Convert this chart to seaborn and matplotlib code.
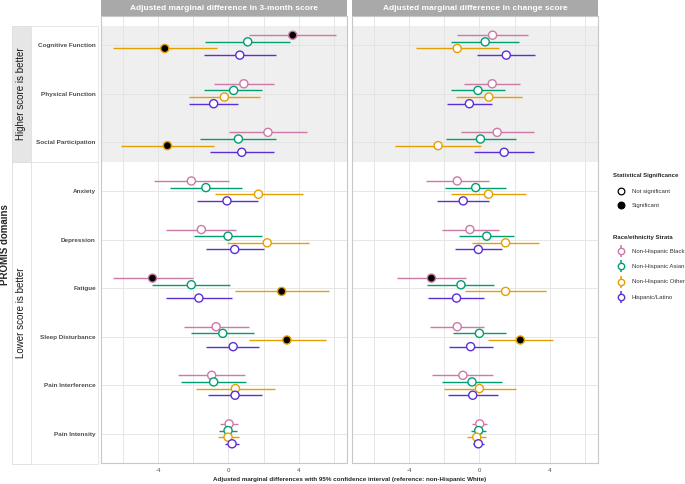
import numpy as np
import pandas as pd
import matplotlib.pyplot as plt
import seaborn as sns
from matplotlib.patches import Rectangle

# ---------------------------------
# Data
# ---------------------------------
domains = ["Cognitive Function", "Physical Function", "Social Participation",
           "Anxiety", "Depression", "Fatigue", "Sleep Disturbance",
           "Pain Interference", "Pain Intensity"]
races = ["Non-Hispanic Black", "Non-Hispanic Asian", "Non-Hispanic Other", "Hispanic/Latino"]
race_colors = ["#CC79A7", "#009E73", "#E69F00", "#5B2FD6"]
panel_titles = ["Adjusted marginal difference in 3-month score",
                "Adjusted marginal difference in change score"]
group_labels = ["Higher score is better", "Lower score is better"]
x_ticks = [-4, 0, 4]

# 3-month score: rows = domains, cols = races
est_3m = [[3.66, 1.10, -3.62, 0.65],
          [0.88, 0.30, -0.23, -0.84],
          [2.25, 0.57, -3.47, 0.76],
          [-2.11, -1.28, 1.71, -0.08],
          [-1.54, -0.02, 2.21, 0.36],
          [-4.32, -2.11, 3.03, -1.68],
          [-0.70, -0.32, 3.33, 0.27],
          [-0.95, -0.84, 0.40, 0.38],
          [0.04, -0.02, -0.02, 0.21]]
lo_3m = [[1.16, -1.31, -6.55, -1.39],
         [-0.84, -1.37, -2.23, -2.25],
         [0.02, -1.60, -6.10, -1.07],
         [-4.25, -3.33, -0.78, -1.81],
         [-3.54, -1.94, -0.10, -1.26],
         [-6.59, -4.32, 0.36, -3.54],
         [-2.55, -2.11, 1.16, -1.26],
         [-2.84, -2.69, -1.87, -1.18],
         [-0.46, -0.51, -0.61, -0.17]]
hi_3m = [[6.15, 3.52, -0.65, 2.72],
         [2.59, 1.94, 1.79, 0.55],
         [4.50, 2.72, -0.84, 2.59],
         [0.04, 0.76, 4.25, 1.68],
         [0.44, 1.92, 4.57, 2.00],
         [-2.04, 0.10, 5.75, 0.19],
         [1.16, 1.47, 5.54, 1.77],
         [0.97, 1.01, 2.67, 1.94],
         [0.55, 0.48, 0.61, 0.61]]
sig_3m = [[1, 0, 1, 0],
          [0, 0, 0, 0],
          [0, 0, 1, 0],
          [0, 0, 0, 0],
          [0, 0, 0, 0],
          [1, 0, 1, 0],
          [0, 0, 1, 0],
          [0, 0, 0, 0],
          [0, 0, 0, 0]]

# change score
est_chg = [[0.75, 0.33, -1.26, 1.53],
           [0.73, -0.08, 0.54, -0.57],
           [1.01, 0.06, -2.35, 1.41],
           [-1.26, -0.21, 0.52, -0.92],
           [-0.54, 0.42, 1.49, -0.06],
           [-2.73, -1.05, 1.49, -1.30],
           [-1.26, 0.00, 2.33, -0.50],
           [-0.94, -0.42, 0.00, -0.38],
           [0.02, -0.04, -0.15, -0.06]]
lo_chg = [[-1.26, -1.61, -3.63, -0.11],
          [-0.88, -1.61, -1.32, -1.87],
          [-1.07, -1.91, -4.80, -0.29],
          [-3.06, -1.95, -1.63, -2.39],
          [-2.14, -1.15, -0.42, -1.38],
          [-4.70, -2.96, -0.84, -2.93],
          [-2.81, -1.49, 0.50, -1.74],
          [-2.70, -2.10, -2.03, -1.78],
          [-0.42, -0.46, -0.69, -0.38]]
hi_chg = [[2.75, 2.26, 1.09, 3.15],
          [2.31, 1.45, 2.41, 0.73],
          [3.08, 2.07, 0.08, 3.08],
          [0.52, 1.53, 2.64, 0.57],
          [1.09, 1.99, 3.38, 1.26],
          [-0.78, 0.82, 3.80, 0.29],
          [0.29, 1.51, 4.17, 0.76],
          [0.80, 1.26, 2.07, 1.05],
          [0.46, 0.40, 0.38, 0.29]]
sig_chg = [[0, 0, 0, 0],
           [0, 0, 0, 0],
           [0, 0, 0, 0],
           [0, 0, 0, 0],
           [0, 0, 0, 0],
           [1, 0, 0, 0],
           [0, 0, 1, 0],
           [0, 0, 0, 0],
           [0, 0, 0, 0]]


def long_table(est, lo, hi, sig):
    rows = []
    for i, d in enumerate(domains):
        for j, r in enumerate(races):
            rows.append({"domain": d, "race": r, "est": est[i][j],
                         "lo": lo[i][j], "hi": hi[i][j], "sig": bool(sig[i][j])})
    df = pd.DataFrame(rows)
    dodge = dict(zip(races, np.linspace(-1, 1, len(races)) * 0.205))
    df["y"] = df["domain"].map({d: i + 1 for i, d in enumerate(domains)}) + df["race"].map(dodge)
    return df


tables = [long_table(est_3m, lo_3m, hi_3m, sig_3m),
          long_table(est_chg, lo_chg, hi_chg, sig_chg)]
palette = dict(zip(races, race_colors))

# ---------------------------------
# Figure
# ---------------------------------
sns.set_theme(style="white")
plt.rcParams["font.family"] = ["Liberation Sans", "DejaVu Sans"]

W, H = 685, 484
fig = plt.figure(figsize=(W / 100, H / 100), dpi=100)

# overlay in pixel coordinates for strips, boxes, labels and legend
ov = fig.add_axes([0, 0, 1, 1])
ov.set_xlim(0, W)
ov.set_ylim(H, 0)
ov.axis("off")


def px_axes(x0, y0, x1, y1):
    return fig.add_axes([x0 / W, 1 - y1 / H, (x1 - x0) / W, (y1 - y0) / H])


panel_x = [(101, 347), (352, 598)]
top, bottom = 16, 463

for k, df in enumerate(tables):
    x0, x1 = panel_x[k]
    ax = px_axes(x0, top, x1, bottom)
    ax.set_xlim(-7.25, 6.75)
    ax.set_ylim(9.6, 0.4)
    ax.set_facecolor("white")

    # shaded "higher is better" block
    ax.axhspan(0.6, 3.4, color="#efefef", lw=0, zorder=0)
    for v in range(-6, 7, 2):
        ax.axvline(v, color="#e2e2e2", lw=0.6, zorder=0.5)
    for y in range(1, len(domains) + 1):
        ax.axhline(y, color="#e2e2e2", lw=0.6, zorder=0.5)

    # confidence intervals
    ax.hlines(df["y"], df["lo"], df["hi"], colors=df["race"].map(palette), lw=1.0, zorder=2)

    # point estimates
    sns.scatterplot(data=df, x="est", y="y", hue="race", palette=palette,
                    s=34, linewidth=1.0, legend=False, ax=ax, zorder=3)
    pts = ax.collections[-1]
    pts.set_edgecolors(df["race"].map(palette).tolist())
    pts.set_facecolors(np.where(df["sig"], "black", "white").tolist())

    ax.set_xlabel("")
    ax.set_ylabel("")
    ax.set_xticks(x_ticks)
    ax.set_xticklabels([str(t) for t in x_ticks])
    ax.set_yticks(range(1, len(domains) + 1))
    ax.tick_params(axis="both", length=2.2, width=0.5, color="#333333",
                   labelsize=4.3, labelcolor="#4d4d4d", pad=1.5)
    if k == 0:
        ax.set_yticklabels(domains)
        for t in ax.get_yticklabels():
            t.set_fontweight("bold")
            t.set_fontsize(4.6)
    else:
        ax.set_yticklabels([])
        ax.tick_params(axis="y", length=0)
    for s in ax.spines.values():
        s.set_color("#c8c8c8")
        s.set_linewidth(0.8)

    # column strip
    ov.add_patch(Rectangle((x0, 0), x1 - x0, top, fc="#a9a9a9", ec="none"))
    ov.text((x0 + x1) / 2, top / 2, panel_titles[k], color="white", fontsize=6,
            fontweight="bold", ha="center", va="center")

# row group boxes on the left
box_rows = [(26, 162, "#e6e6e6"), (162, 464, "white")]
for (y0, y1, fc), lab in zip(box_rows, group_labels):
    ov.add_patch(Rectangle((12, y0), 19, y1 - y0, fc=fc, ec="#dddddd", lw=0.6))
    ov.add_patch(Rectangle((31, y0), 67, y1 - y0, fc="none", ec="#e4e4e4", lw=0.6))
    ov.text(21.5, (y0 + y1) / 2, lab, rotation=90, fontsize=7, color="#1a1a1a",
            ha="center", va="center")

ov.text(5.5, 245, "PROMIS domains", rotation=90, fontsize=7, fontweight="bold",
        ha="center", va="center")
ov.text(349.5, 479, "Adjusted marginal differences with 95% confidence interval "
        "(reference: non-Hispanic White)", fontsize=4.5, fontweight="bold",
        ha="center", va="center")

# ---------------------------------
# Legends (drawn by hand)
# ---------------------------------
ov.text(613, 176, "Statistical Significance", fontsize=4.3, fontweight="bold",
        ha="left", va="center")
for y, fill, lab in [(191, "white", "Not significant"), (205, "black", "Significant")]:
    ov.plot([621.5], [y], marker="o", ms=4.8, mfc=fill, mec="black", mew=0.9, ls="none")
    ov.text(632, y, lab, fontsize=4.3, color="#333333", ha="left", va="center")

ov.text(613, 237, "Race/ethnicity Strata", fontsize=4.3, fontweight="bold",
        ha="left", va="center")
for i, (lab, c) in enumerate(zip(races, race_colors)):
    y = 251 + i * 15.4
    ov.plot([621.5], [y], marker="|", ms=9, mew=1.1, color=c, ls="none")
    ov.plot([621.5], [y], marker="o", ms=4.6, mfc="white", mec=c, mew=1.0, ls="none")
    ov.text(632, y, lab, fontsize=4.3, color="#333333", ha="left", va="center")

fig.savefig("out.png", dpi=100)
